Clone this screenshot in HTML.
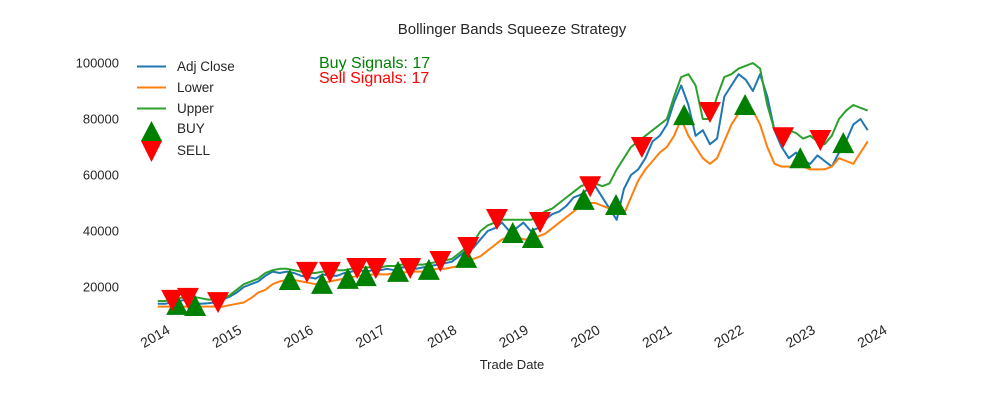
<!DOCTYPE html>
<html><head><meta charset="utf-8"><style>
body{margin:0;background:#fff;}
svg{display:block;font-family:"Liberation Sans",Arial,sans-serif;}
</style></head><body>
<svg id="chart" width="1000" height="400">
<text x="512" y="34" text-anchor="middle" font-size="15" fill="#262626">Bollinger Bands Squeeze Strategy</text>
<text x="512" y="369" text-anchor="middle" font-size="13" fill="#262626">Trade Date</text>
<g id="yticks"></g>
<g id="xticks"></g>
<g id="plot"></g>
<g>
<line x1="137" y1="66.5" x2="166" y2="66.5" stroke="#1f77b4" stroke-width="2"/>
<text x="177" y="71" font-size="13.5" fill="#262626">Adj Close</text>
<line x1="137" y1="87.5" x2="166" y2="87.5" stroke="#ff7f0e" stroke-width="2"/>
<text x="177" y="92" font-size="13.5" fill="#262626">Lower</text>
<line x1="137" y1="108.5" x2="166" y2="108.5" stroke="#2ca02c" stroke-width="2"/>
<text x="177" y="113" font-size="13.5" fill="#262626">Upper</text>
<polygon points="141,141 162,141 151.5,121" fill="#008000"/>
<text x="177" y="133" font-size="13.5" fill="#262626">BUY</text>
<polygon points="141,141 162,141 151.5,162" fill="#ff0000"/>
<text x="177" y="155" font-size="13.5" fill="#262626">SELL</text>
</g>
<text x="319" y="68" font-size="16" fill="#008000">Buy Signals: 17</text>
<text x="319" y="83" font-size="16" fill="#ff0000">Sell Signals: 17</text>
</svg>
<script>
const startYear = 2013.9;
const stepYear = 0.1;
const adjClose = [14,
14,14.5,15,15.5,14.5,14,14.2,14.5,15.5,16.5,
18,20,21,22,24,25.5,25,25.5,25,24,
23.5,23,24.5,24,24,25,25.5,26,25.5,26,
26,26.5,26,27,27,26.5,27,27.5,28,28.5,
29,31,33,34,37,40,41,43,40,41,
43,40,41,44,46,47,49,52,53,55,
56,52,48,44,55,60,62,66,72,74,
78,86,92,85,74,76,71,73,88,92,
96,94,90,96,88,76,70,66,68,65,
64,67,65,63,68,72,78,80,76];
const lowerBand = [13,
13,13,13,13,13,13,13,13,13,13.5,
14,14.5,16,18,19,21,22,22.5,22.5,22,
21.5,21,21.5,22,22.5,23,23.5,24,24,24.5,
24.5,24.5,25,25,25.5,25.5,25.5,26,26.5,26.5,
27,27.5,29,30,31,33,35,37,38,38,
37,37,38,39,41,43,45,47,49,50,
50,49,48,47,46,52,58,62,65,68,
70,74,80,74,70,66,64,66,72,78,
82,85,83,78,70,64,63,63,63,63,
62,62,62,63,66,65,64,68,72];
const upperBand = [15,
15,15.5,16,16.5,16.5,16,15.5,15.5,16,17,
19,21,22,23,25,26,26.5,26.5,26,25.5,
25,25,25.5,25.5,26,26,26.5,27,27,27,
27,27.5,27.5,28,28,28,28,28.5,29,29.5,
30,32,34,36,40,42,43,44,44,44,
44,44,45,47,48,50,52,54,56,57,
57,56,57,62,66,70,72,74,76,78,
80,88,95,96,92,80,80,88,95,96,
98,99,100,98,85,76,76,76,75,73,
74,72,71,74,80,83,85,84,83];
const buyDates = [2014.17,2014.42,2015.74,2016.19,2016.55,2016.80,2017.25,2017.68,2018.20,2018.85,2019.13,2019.84,2020.29,2021.24,2022.09,2022.86,2023.46];
const buyPrices = [13.6,13.2,22.5,21.1,22.9,23.9,25.4,26.1,30.4,39.3,37.5,51.1,49.3,81.4,85.0,66.0,71.4];
const sellDates = [2014.10,2014.32,2014.74,2015.98,2016.30,2016.68,2016.94,2017.42,2017.84,2018.23,2018.63,2019.23,2019.93,2020.65,2021.60,2022.62,2023.14];
const sellPrices = [15.4,16.1,14.6,25.4,25.4,26.8,26.8,26.8,29.3,34.3,44.3,43.2,56.0,70.0,82.5,73.5,72.5];
const yTicks = [20000,40000,60000,80000,100000];
const xTicks = [2014,2015,2016,2017,2018,2019,2020,2021,2022,2023,2024];

const NS = "http://www.w3.org/2000/svg";
function xs(yr){return 165 + (yr-2014)*71.7;}
function ys(v){return 287 - (v-20000)*56/20000;}
function mk(tag, attrs, parent){const e=document.createElementNS(NS,tag);for(const k in attrs)e.setAttribute(k,attrs[k]);parent.appendChild(e);return e;}

const yg=document.getElementById('yticks');
yTicks.forEach(v=>{
  const t=mk('text',{x:119,y:ys(v)+4.5,'text-anchor':'end','font-size':13,fill:'#262626'},yg);
  t.textContent=String(v);
  
  
});
const xg=document.getElementById('xticks');
xTicks.forEach(yr=>{
  const x=xs(yr)+1, y=324;
  const t=mk('text',{x:x,y:y+10,'text-anchor':'end','font-size':14,fill:'#262626',transform:`rotate(-30 ${x} ${y})`},xg);
  t.textContent=String(yr);
  
  
});

const plot=document.getElementById('plot');
function line(vals,color,name){
  const pts=vals.map((v,i)=>xs(startYear+i*stepYear).toFixed(1)+','+ys(v*1000).toFixed(1)).join(' ');
  const p=mk('polyline',{points:pts,fill:'none',stroke:color,'stroke-width':2,'stroke-linejoin':'round'},plot);
  
  
}
line(adjClose,'#1f77b4','adj-close-line');
line(lowerBand,'#ff7f0e','lower-band-line');
line(upperBand,'#2ca02c','upper-band-line');

buyDates.forEach((d,i)=>{
  const x=xs(d), y=ys(buyPrices[i]*1000);
  const p=mk('polygon',{points:`${x-11},${y+10} ${x+11},${y+10} ${x},${y-11}`,fill:'#008000'},plot);
  
  
});
sellDates.forEach((d,i)=>{
  const x=xs(d), y=ys(sellPrices[i]*1000);
  const p=mk('polygon',{points:`${x-11},${y-10} ${x+11},${y-10} ${x},${y+11}`,fill:'#ff0000'},plot);
  
  
});
</script>
</body></html>
